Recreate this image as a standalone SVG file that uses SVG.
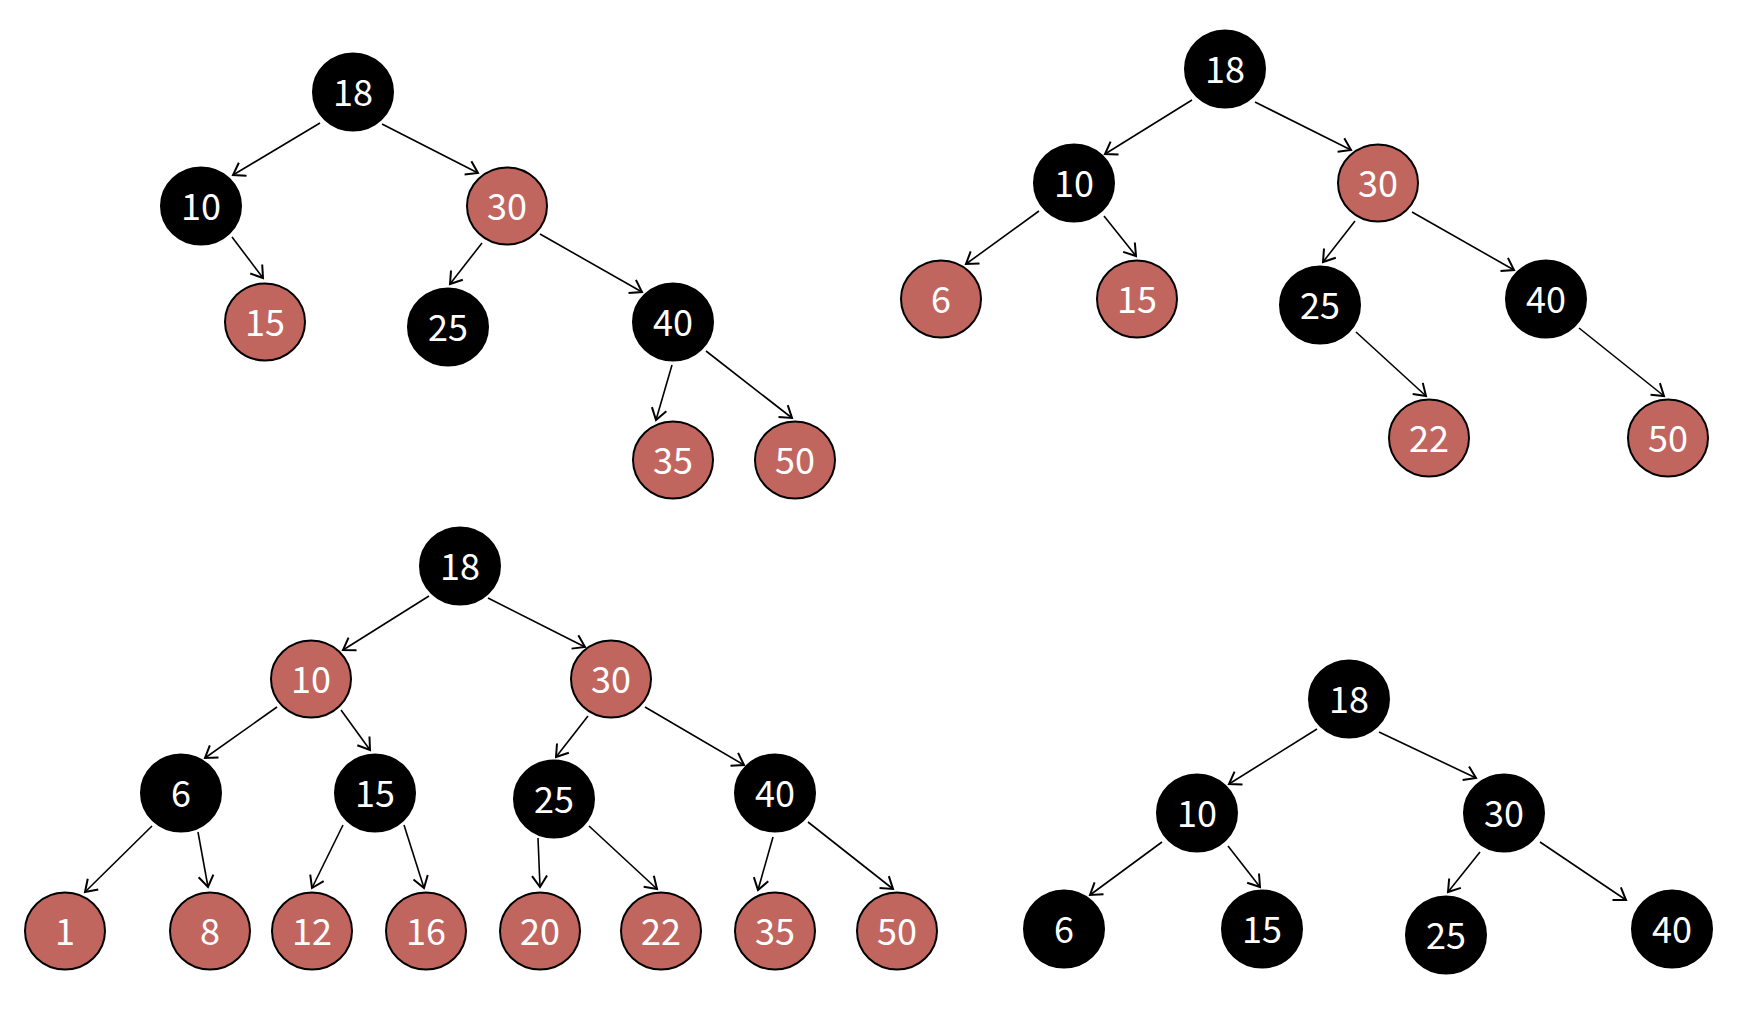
<svg xmlns="http://www.w3.org/2000/svg" width="1752" height="1010" viewBox="0 0 1752 1010">
<style>
.b{fill:#000;stroke:#000;stroke-width:2}
.r{fill:#C1665F;stroke:#000;stroke-width:2}
.t{fill:#fff;font-family:"Noto Sans CJK SC","Noto Sans",sans-serif;font-size:36px;text-anchor:middle}
.e{stroke:#000;stroke-width:1.6;fill:none;marker-end:url(#a)}
</style>
<defs>
<marker id="a" markerUnits="userSpaceOnUse" markerWidth="20" markerHeight="20" viewBox="-12 -8 14 16" refX="0" refY="0" orient="auto">
<path d="M-9,-6 L0,0 L-9,6" fill="none" stroke="#000" stroke-width="1.6"/>
</marker>
</defs>
<rect width="1752" height="1010" fill="#fff"/>
<g id="connectors">
<line class="e" x1="320" y1="123" x2="233" y2="175"/>
<line class="e" x1="382" y1="124" x2="478" y2="173"/>
<line class="e" x1="232" y1="237" x2="263" y2="278"/>
<line class="e" x1="482" y1="243" x2="450" y2="284"/>
<line class="e" x1="540" y1="234" x2="642" y2="292"/>
<line class="e" x1="672" y1="365" x2="656" y2="420"/>
<line class="e" x1="706" y1="351" x2="792" y2="418"/>

<line class="e" x1="1192" y1="100" x2="1105" y2="154"/>
<line class="e" x1="1255" y1="102" x2="1351" y2="150"/>
<line class="e" x1="1039" y1="211" x2="966" y2="264"/>
<line class="e" x1="1104" y1="216" x2="1136" y2="256"/>
<line class="e" x1="1355" y1="221" x2="1323" y2="262"/>
<line class="e" x1="1412" y1="212" x2="1514" y2="270"/>
<line class="e" x1="1356" y1="332" x2="1426" y2="396"/>
<line class="e" x1="1579" y1="328" x2="1664" y2="396"/>

<line class="e" x1="429" y1="596" x2="343" y2="650"/>
<line class="e" x1="488" y1="598" x2="585" y2="647"/>
<line class="e" x1="277" y1="707" x2="205" y2="758"/>
<line class="e" x1="341" y1="710" x2="370" y2="750"/>
<line class="e" x1="588" y1="716" x2="556" y2="757"/>
<line class="e" x1="645" y1="707" x2="744" y2="765"/>
<line class="e" x1="152" y1="826" x2="85" y2="892"/>
<line class="e" x1="198" y1="832" x2="208" y2="887"/>
<line class="e" x1="343" y1="825" x2="312" y2="888"/>
<line class="e" x1="404" y1="825" x2="424" y2="888"/>
<line class="e" x1="538" y1="838" x2="540" y2="887"/>
<line class="e" x1="589" y1="826" x2="657" y2="889"/>
<line class="e" x1="773" y1="837" x2="758" y2="890"/>
<line class="e" x1="808" y1="822" x2="893" y2="889"/>

<line class="e" x1="1317" y1="729" x2="1229" y2="784"/>
<line class="e" x1="1379" y1="732" x2="1476" y2="778"/>
<line class="e" x1="1162" y1="842" x2="1090" y2="895"/>
<line class="e" x1="1228" y1="846" x2="1260" y2="887"/>
<line class="e" x1="1480" y1="852" x2="1448" y2="892"/>
<line class="e" x1="1540" y1="842" x2="1626" y2="900"/>
</g>

<g id="p1-18"><ellipse class="b" cx="353" cy="92" rx="40" ry="38.5"/><text class="t" x="353" y="106">18</text></g>
<g id="p1-10"><ellipse class="b" cx="201" cy="206" rx="40" ry="38.5"/><text class="t" x="201" y="220">10</text></g>
<g id="p1-30"><ellipse class="r" cx="507" cy="206" rx="40" ry="38.5"/><text class="t" x="507" y="220">30</text></g>
<g id="p1-15"><ellipse class="r" cx="265" cy="322" rx="40" ry="38.5"/><text class="t" x="265" y="336">15</text></g>
<g id="p1-25"><ellipse class="b" cx="448" cy="327" rx="40" ry="38.5"/><text class="t" x="448" y="341">25</text></g>
<g id="p1-40"><ellipse class="b" cx="673" cy="322" rx="40" ry="38.5"/><text class="t" x="673" y="336">40</text></g>
<g id="p1-35"><ellipse class="r" cx="673" cy="460" rx="40" ry="38.5"/><text class="t" x="673" y="474">35</text></g>
<g id="p1-50"><ellipse class="r" cx="795" cy="460" rx="40" ry="38.5"/><text class="t" x="795" y="474">50</text></g>

<g id="p2-18"><ellipse class="b" cx="1225" cy="69" rx="40" ry="38.5"/><text class="t" x="1225" y="83">18</text></g>
<g id="p2-10"><ellipse class="b" cx="1074" cy="183" rx="40" ry="38.5"/><text class="t" x="1074" y="197">10</text></g>
<g id="p2-30"><ellipse class="r" cx="1378" cy="183" rx="40" ry="38.5"/><text class="t" x="1378" y="197">30</text></g>
<g id="p2-6"><ellipse class="r" cx="941" cy="299" rx="40" ry="38.5"/><text class="t" x="941" y="313">6</text></g>
<g id="p2-15"><ellipse class="r" cx="1137" cy="299" rx="40" ry="38.5"/><text class="t" x="1137" y="313">15</text></g>
<g id="p2-25"><ellipse class="b" cx="1320" cy="305" rx="40" ry="38.5"/><text class="t" x="1320" y="319">25</text></g>
<g id="p2-40"><ellipse class="b" cx="1546" cy="299" rx="40" ry="38.5"/><text class="t" x="1546" y="313">40</text></g>
<g id="p2-22"><ellipse class="r" cx="1429" cy="438" rx="40" ry="38.5"/><text class="t" x="1429" y="452">22</text></g>
<g id="p2-50"><ellipse class="r" cx="1668" cy="438" rx="40" ry="38.5"/><text class="t" x="1668" y="452">50</text></g>

<g id="p3-18"><ellipse class="b" cx="460" cy="566" rx="40" ry="38.5"/><text class="t" x="460" y="580">18</text></g>
<g id="p3-10"><ellipse class="r" cx="311" cy="679" rx="40" ry="38.5"/><text class="t" x="311" y="693">10</text></g>
<g id="p3-30"><ellipse class="r" cx="611" cy="679" rx="40" ry="38.5"/><text class="t" x="611" y="693">30</text></g>
<g id="p3-6"><ellipse class="b" cx="181" cy="793" rx="40" ry="38.5"/><text class="t" x="181" y="807">6</text></g>
<g id="p3-15"><ellipse class="b" cx="375" cy="793" rx="40" ry="38.5"/><text class="t" x="375" y="807">15</text></g>
<g id="p3-25"><ellipse class="b" cx="554" cy="799" rx="40" ry="38.5"/><text class="t" x="554" y="813">25</text></g>
<g id="p3-40"><ellipse class="b" cx="775" cy="793" rx="40" ry="38.5"/><text class="t" x="775" y="807">40</text></g>
<g id="p3-1"><ellipse class="r" cx="65" cy="931" rx="40" ry="38.5"/><text class="t" x="65" y="945">1</text></g>
<g id="p3-8"><ellipse class="r" cx="210" cy="931" rx="40" ry="38.5"/><text class="t" x="210" y="945">8</text></g>
<g id="p3-12"><ellipse class="r" cx="312" cy="931" rx="40" ry="38.5"/><text class="t" x="312" y="945">12</text></g>
<g id="p3-16"><ellipse class="r" cx="426" cy="931" rx="40" ry="38.5"/><text class="t" x="426" y="945">16</text></g>
<g id="p3-20"><ellipse class="r" cx="540" cy="931" rx="40" ry="38.5"/><text class="t" x="540" y="945">20</text></g>
<g id="p3-22"><ellipse class="r" cx="661" cy="931" rx="40" ry="38.5"/><text class="t" x="661" y="945">22</text></g>
<g id="p3-35"><ellipse class="r" cx="775" cy="931" rx="40" ry="38.5"/><text class="t" x="775" y="945">35</text></g>
<g id="p3-50"><ellipse class="r" cx="897" cy="931" rx="40" ry="38.5"/><text class="t" x="897" y="945">50</text></g>

<g id="p4-18"><ellipse class="b" cx="1349" cy="699" rx="40" ry="38.5"/><text class="t" x="1349" y="713">18</text></g>
<g id="p4-10"><ellipse class="b" cx="1197" cy="813" rx="40" ry="38.5"/><text class="t" x="1197" y="827">10</text></g>
<g id="p4-30"><ellipse class="b" cx="1504" cy="813" rx="40" ry="38.5"/><text class="t" x="1504" y="827">30</text></g>
<g id="p4-6"><ellipse class="b" cx="1064" cy="929" rx="40" ry="38.5"/><text class="t" x="1064" y="943">6</text></g>
<g id="p4-15"><ellipse class="b" cx="1262" cy="929" rx="40" ry="38.5"/><text class="t" x="1262" y="943">15</text></g>
<g id="p4-25"><ellipse class="b" cx="1446" cy="935" rx="40" ry="38.5"/><text class="t" x="1446" y="949">25</text></g>
<g id="p4-40"><ellipse class="b" cx="1672" cy="929" rx="40" ry="38.5"/><text class="t" x="1672" y="943">40</text></g>
</svg>
